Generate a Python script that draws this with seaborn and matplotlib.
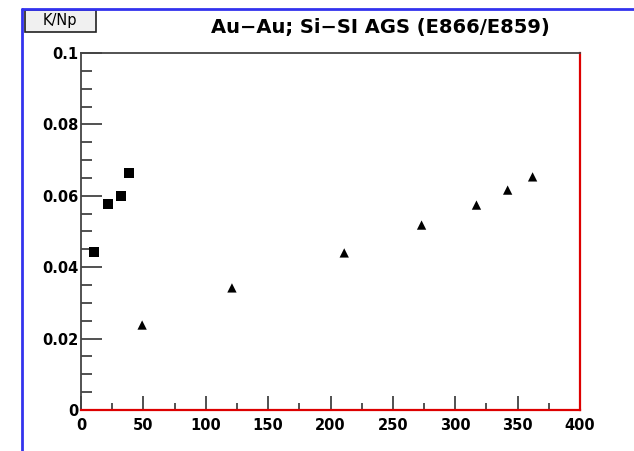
import matplotlib
matplotlib.use("Agg")
import matplotlib.pyplot as plt
import seaborn as sns
import pandas as pd
from matplotlib.ticker import MultipleLocator
from matplotlib.lines import Line2D
from matplotlib.patches import Rectangle

sns.set_style("white")
plt.rcParams['font.family'] = ['DejaVu Sans']
plt.rcParams['text.color'] = 'black'
plt.rcParams['xtick.color'] = 'black'
plt.rcParams['ytick.color'] = 'black'

# Data
aa_npart = [10.4, 21.6, 32.0, 38.5]
aa_ratio = [0.0443, 0.0577, 0.0600, 0.0664]
si_npart = [49, 121, 211, 273, 317, 342, 362]
si_ratio = [0.0238, 0.0342, 0.0440, 0.0518, 0.0574, 0.0616, 0.0653]

title = "Au\u2212Au; Si\u2212SI AGS (E866/E859)"
ylabel_box = "K/Np"

df = pd.DataFrame({
    "x": aa_npart + si_npart,
    "y": aa_ratio + si_ratio,
    "set": ["sq"] * len(aa_npart) + ["tri"] * len(si_npart),
})

fig = plt.figure(figsize=(6.34, 4.51), dpi=100)
ax = fig.add_axes([81/634, 41/451, 499/634, 357/451])

sns.scatterplot(data=df, x="x", y="y", style="set", markers={"sq": "s", "tri": "^"},
                color="black", s=50, edgecolor="black", linewidth=0, legend=False, ax=ax)
colls = ax.collections
if len(colls) >= 1:
    sizes = [55 if s == "sq" else 45 for s in df["set"]]
    colls[0].set_sizes(sizes)

ax.set_xlim(0, 400)
ax.set_ylim(0, 0.1)
ax.set_xlabel("")
ax.set_ylabel("")
ax.xaxis.set_major_locator(MultipleLocator(50))
ax.xaxis.set_minor_locator(MultipleLocator(25))
ax.yaxis.set_minor_locator(MultipleLocator(0.005))
ax.set_yticks([0, 0.02, 0.04, 0.06, 0.08, 0.1])
ax.set_yticklabels(["0", "0.02", "0.04", "0.06", "0.08", "0.1"])
ax.tick_params(axis="both", which="both", direction="in", color="#333333", width=1.2,
               labelsize=10.5, labelcolor="black", left=True, bottom=True)
ax.tick_params(axis="y", which="major", length=15, pad=2)
ax.tick_params(axis="y", which="minor", length=8)
ax.tick_params(axis="x", which="major", length=10, pad=6)
ax.tick_params(axis="x", which="minor", length=5)
for lab in ax.get_xticklabels() + ax.get_yticklabels():
    lab.set_fontweight("bold")

for side in ["left", "top"]:
    ax.spines[side].set_color("#444444")
    ax.spines[side].set_linewidth(1.3)
for side in ["right", "bottom"]:
    ax.spines[side].set_color("#dd0000")
    ax.spines[side].set_linewidth(1.6)
    ax.spines[side].set_visible(True)

# canvas frame (blue) left and top
fig.add_artist(Line2D([21.5/634, 21.5/634], [0, 1 - 9/451], transform=fig.transFigure,
                      color="#3333ee", lw=2))
fig.add_artist(Line2D([21.5/634, 1], [1 - 9/451, 1 - 9/451], transform=fig.transFigure,
                      color="#3333ee", lw=2))

# K/Np box
fig.add_artist(Rectangle((25/634, 1 - 32/451), 71/634, 22/451, transform=fig.transFigure,
                         facecolor="#f0f0f0", edgecolor="#222222", lw=1.2))
fig.text(60/634, 1 - 21/451, ylabel_box, ha="center", va="center", fontsize=10.5, color="black")

fig.text(380/634, 1 - 28/451, title, ha="center", va="center", fontsize=14, fontweight="bold",
         color="black")

fig.savefig("out.png", dpi=100)
